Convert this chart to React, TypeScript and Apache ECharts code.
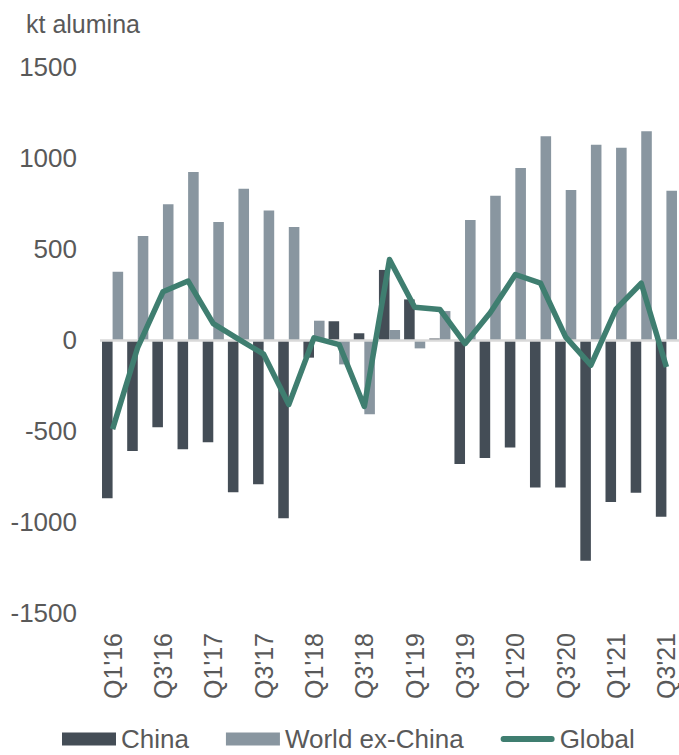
import React, { useEffect, useRef } from "react";
import * as echarts from "echarts";

const categories = [
  "Q1'16", "Q2'16", "Q3'16", "Q4'16",
  "Q1'17", "Q2'17", "Q3'17", "Q4'17",
  "Q1'18", "Q2'18", "Q3'18", "Q4'18",
  "Q1'19", "Q2'19", "Q3'19", "Q4'19",
  "Q1'20", "Q2'20", "Q3'20", "Q4'20",
  "Q1'21", "Q2'21", "Q3'21",
];

const chinaValues = [
  -870, -610, -480, -600,
  -562, -837, -793, -980,
  -97, 103, 37, 385,
  223, 8, -681, -648,
  -590, -810, -810, -1213,
  -890, -839, -971,
];

const worldExChinaValues = [
  375, 571, 746, 923,
  648, 831, 712, 621,
  106, -134, -408, 55,
  -46, 159, 659, 793,
  945, 1120, 824, 1073,
  1057, 1147, 820,
];

const globalValues = [
  -490, -40, 265, 324,
  90, 5, -78, -355,
  12, -25, -365, 442,
  180, 168, -20, 150,
  360, 312, 16, -138,
  170, 312, -148,
];

const TEXT = "#595959";
const FONT = "Arial, 'Liberation Sans', sans-serif";
const LINE_COLOR = "#3f7e70";

// legend icon for the line: a thin rounded bar centred in the icon box
const LINE_ICON =
  "path://M0,0 M56,13 M3,3.5 L53,3.5 A3,3 0 0 1 53,9.5 L3,9.5 A3,3 0 0 1 3,3.5 Z";

export default function App() {
  const ref = useRef<HTMLDivElement>(null);

  useEffect(() => {
    if (!ref.current) return;
    const chart = echarts.init(ref.current, undefined, { renderer: "svg" });
    chart.setOption({
      animation: false,
      backgroundColor: "#ffffff",
      textStyle: { fontFamily: FONT },
      title: {
        text: "kt alumina",
        left: 21,
        top: 6,
        textStyle: { fontSize: 25, fontWeight: "normal", color: TEXT, fontFamily: FONT },
      },
      legend: {
        left: 62,
        top: 726,
        padding: 0,
        itemWidth: 54,
        itemHeight: 13,
        itemGap: 37,
        textStyle: { fontSize: 26, lineHeight: 22, color: TEXT, fontFamily: FONT },
        data: [
          { name: "China", icon: "rect" },
          { name: "World ex-China", icon: "rect" },
          {
            name: "Global",
            icon: LINE_ICON,
            itemStyle: { color: LINE_COLOR, borderWidth: 0 },
          },
        ],
      },
      grid: { left: 100, right: 0, top: 67, bottom: 142, containLabel: false },
      xAxis: {
        type: "category",
        data: categories,
        axisLine: { show: false, onZero: false },
        axisTick: { show: false },
        axisLabel: {
          interval: 1,
          rotate: 90,
          margin: 20,
          fontSize: 25,
          lineHeight: 18,
          color: TEXT,
          fontFamily: FONT,
        },
      },
      yAxis: {
        type: "value",
        min: -1500,
        max: 1500,
        interval: 500,
        splitLine: { show: false },
        axisLine: { show: false },
        axisTick: { show: false },
        axisLabel: {
          fontSize: 26,
          color: TEXT,
          margin: 23,
          fontFamily: FONT,
          formatter: (v: number) => String(v),
        },
      },
      series: [
        {
          name: "China",
          type: "bar",
          data: chinaValues,
          barGap: "0%",
          barCategoryGap: "16%",
          itemStyle: { color: "#444d56" },
          markLine: {
            silent: true,
            symbol: ["none", "none"],
            label: { show: false },
            lineStyle: { color: "#d9d9d9", width: 2.5, type: "solid" },
            data: [{ yAxis: 0 }],
            z: 3,
          },
        },
        {
          name: "World ex-China",
          type: "bar",
          data: worldExChinaValues,
          barGap: "0%",
          barCategoryGap: "16%",
          itemStyle: { color: "#8996a0" },
        },
        {
          name: "Global",
          type: "line",
          data: globalValues,
          showSymbol: false,
          symbol: "none",
          z: 5,
          lineStyle: { color: LINE_COLOR, width: 5.5, join: "round" },
          itemStyle: { color: LINE_COLOR },
        },
      ],
    });
    return () => chart.dispose();
  }, []);

  return (
    <div
      ref={ref}
      style={{ position: "absolute", left: 0, top: 0, width: 679, height: 755 }}
    />
  );
}
